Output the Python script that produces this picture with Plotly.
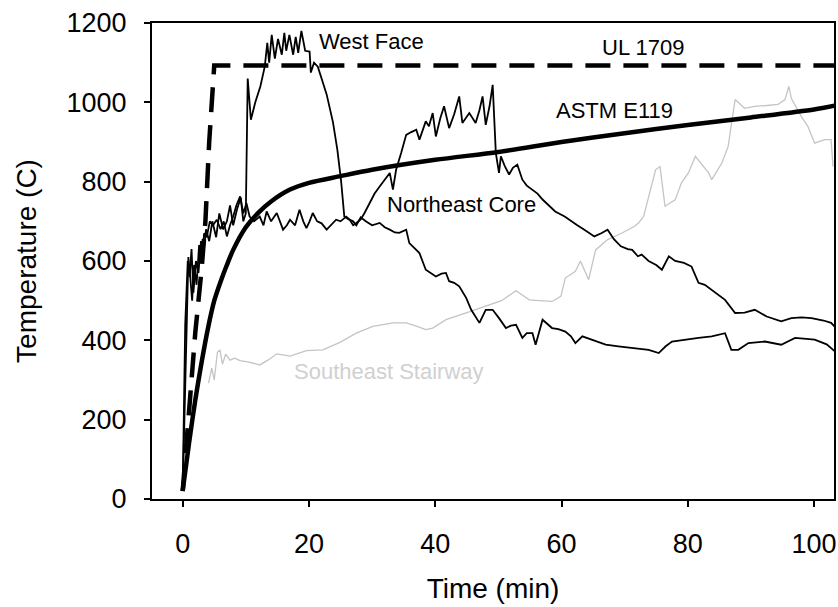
import plotly.graph_objects as go

# ---------------- data ----------------
astm_t = [0, 1, 2, 3, 4, 5, 6, 7, 8, 10, 12, 14, 17, 20, 25, 30, 40, 50, 60, 70, 80, 90, 100, 104]
astm_v = [20, 140, 250, 345, 430, 500, 548, 590, 628, 685, 722, 750, 780, 797, 814, 830, 855, 875, 900,
          922, 943, 962, 982, 994]

ul_t = [0, 1, 2, 3, 3.6, 4.2, 5, 104]
ul_v = [20, 220, 420, 580, 700, 900, 1093, 1093]

west_t = [0, 0.4, 0.8, 1.1, 1.4, 1.7, 2.1, 2.5, 2.9, 3.3, 3.7, 4.2, 4.7, 5.3, 5.8, 6.4, 7.0, 7.5, 8.0,
          8.6, 9.2, 9.6, 10.0, 10.3, 10.8, 11.5, 12.3, 13.0, 13.4, 13.7, 14.1, 14.6, 15.1, 15.7, 16.1,
          16.4, 16.9, 17.5, 17.9, 18.3, 18.8, 19.4, 20.1, 20.3, 20.8, 21.4, 22.0, 22.8, 23.8, 24.5,
          25.1, 25.6, 26.3, 27.0, 27.5, 28.2, 29.0, 30.0, 31.2, 32.0, 32.8, 33.6, 34.3, 35.0, 35.4,
          35.9, 37.0, 37.5, 38.5, 39.3, 40.1, 41.0, 41.7, 42.2, 43.0, 43.8, 44.9, 45.7, 46.3, 47.0,
          48.0, 49.1, 50.1, 51.2, 52.0, 52.8, 53.8, 54.5, 55.4, 55.9, 57.0, 58.5, 59.5, 60.6, 61.5,
          62.2, 63.3, 64.8, 66.0, 67.0, 69.0, 71.2, 73.8, 75.4, 76.5, 77.5, 79.5, 81.7, 83.8, 85.9,
          86.9, 88.0, 89.6, 91.0, 92.2, 94.8, 97.0, 100.1, 102.0, 103.3]
west_v = [20, 440, 600, 560, 630, 520, 600, 570, 650, 620, 680, 650, 700, 660, 720, 680, 700, 740, 690,
          730, 760, 700, 720, 1060, 956, 1000, 1040, 1090, 1150, 1100, 1170, 1110, 1160, 1120, 1175,
          1130, 1170, 1120, 1165, 1125, 1180, 1130, 1128, 1075, 1100, 1090, 1060, 1020, 950, 880,
          800, 712, 705, 700, 690, 710, 700, 690, 696, 685, 679, 672, 671, 675, 679,
          645, 628, 620, 578, 570, 561, 568, 570, 549, 545, 536, 507, 477, 460, 444,
          477, 477, 456, 431, 437, 439, 406, 418, 418, 389, 452, 431, 428, 422, 410,
          393, 410, 402, 395, 389, 385, 381, 376, 368, 385, 397, 402, 406, 410, 418,
          376, 376, 393, 395, 397, 389, 406, 402, 390, 372]

ne_t = [0, 0.5, 0.9, 1.2, 1.5, 1.8, 2.2, 2.6, 3.0, 3.4, 3.8, 4.3, 4.8, 5.4, 6.0, 6.5, 7.0, 7.5, 8.0,
        8.5, 9.1, 9.6, 10.1, 10.6, 11.3, 12.2, 12.8, 13.3, 14.0, 14.9, 15.4, 15.9, 16.5, 17.0, 17.8,
        18.5, 19.1, 19.6, 20.1, 20.6, 21.3, 22.0, 22.8, 23.5, 24.3, 25.0, 25.9, 26.4, 27.0, 27.5,
        28.2, 28.8, 29.6, 30.4, 31.2, 32.0, 32.8, 33.3, 33.8, 34.6, 35.4, 36.2, 37.0, 37.5, 38.5,
        39.0, 39.6, 40.1, 40.8, 41.4, 42.2, 43.0, 43.8, 44.3, 45.4, 46.4, 47.0, 47.5, 48.0, 48.6,
        49.1, 49.6, 50.1, 50.4, 51.0, 51.7, 52.3, 53.0, 53.8, 54.5, 55.4, 56.2, 57.0, 58.0, 59.0,
        60.5, 61.5, 62.5, 63.5, 64.5, 65.2, 66.3, 67.3, 68.3, 69.4, 70.5, 71.2, 72.1, 72.7, 73.8,
        75.0, 75.9, 77.0, 78.0, 79.4, 80.6, 81.7, 82.7, 84.0, 85.9, 87.5, 89.0, 90.6, 92.5, 94.8,
        96.4, 98.0, 99.6, 101.5, 102.7, 103.5]
ne_v = [20, 350, 610, 560, 500, 590, 540, 640, 600, 670, 660, 700, 690, 704, 680, 700, 662, 690, 712,
        740, 763, 720, 746, 712, 700, 712, 690, 725, 700, 721, 700, 679, 690, 704, 690,
        729, 700, 683, 700, 721, 700, 695, 679, 690, 704, 700, 712, 705, 690, 696,
        705, 721, 746, 770, 788, 805, 822, 780, 830, 872, 918, 925, 931, 906, 952,
        940, 973, 914, 960, 990, 935, 970, 1015, 948, 973, 948, 980, 1015, 943, 990,
        1044, 872, 822, 864, 840, 818, 835, 843, 805, 790, 780, 770, 755, 740, 725,
        712, 700, 690, 680, 670, 662, 670, 679, 655, 637, 630, 628, 612, 616, 600,
        590, 578, 612, 600, 595, 586, 545, 540, 525, 502, 469, 470, 477, 460, 448,
        456, 458, 456, 450, 444, 431]

se_t = [4.1, 4.6, 5.0, 5.5, 5.9, 6.3, 6.8, 7.5, 8.2, 9.1, 10.5, 12.2, 13.5, 14.9, 17.0, 19.6, 22.2,
        24.9, 27.5, 30.1, 33.3, 35.4, 37.0, 38.5, 39.6, 41.7, 44.9, 48.0, 50.5, 52.8, 54.9, 56.5,
        58.5, 59.9, 60.6, 62.2, 63.0, 64.3, 65.4, 67.3, 69.5, 71.5, 72.2, 73.0, 74.9, 75.6, 76.4,
        78.0, 79.0, 80.1, 81.2, 83.3, 83.8, 85.4, 86.4, 86.7, 87.5, 89.0, 90.6, 92.5, 94.3, 95.4,
        96.0, 96.4, 98.0, 99.0, 100.1, 101.7, 102.7, 103.0]
se_v = [292, 330, 300, 370, 376, 340, 365, 350, 355, 349, 345, 338, 350, 366, 360, 374, 376,
        395, 418, 435, 444, 444, 436, 427, 431, 452, 469, 486, 500, 525, 502, 500,
        498, 511, 557, 574, 600, 553, 628, 654, 670, 687, 696, 712, 830, 838, 738,
        754, 797, 822, 864, 822, 805, 847, 889, 922, 1007, 985, 990, 992, 995, 1007,
        1040, 1010, 964, 940, 897, 906, 906, 838]

x_ticks = [0, 20, 40, 60, 80, 100]
y_ticks = [0, 200, 400, 600, 800, 1000, 1200]

FONT = "Arial, 'Liberation Sans', sans-serif"

fig = go.Figure()
fig.add_trace(go.Scatter(x=se_t, y=se_v, mode="lines", name="Southeast Stairway",
                         line=dict(color="#c4c4c4", width=1.3)))
fig.add_trace(go.Scatter(x=west_t, y=west_v, mode="lines", name="West Face",
                         line=dict(color="black", width=1.8)))
fig.add_trace(go.Scatter(x=ne_t, y=ne_v, mode="lines", name="Northeast Core",
                         line=dict(color="black", width=1.8)))
fig.add_trace(go.Scatter(x=ul_t, y=ul_v, mode="lines", name="UL 1709",
                         line=dict(color="black", width=4.5, dash="25px,13px")))
fig.add_trace(go.Scatter(x=astm_t, y=astm_v, mode="lines", name="ASTM E119",
                         line=dict(color="black", width=4.5, shape="spline", smoothing=0.8)))

ann = dict(showarrow=False, xref="x", yref="y", font=dict(family=FONT, size=22, color="black"))
fig.add_annotation(x=21.2, y=1153, text="West Face", xanchor="left", yanchor="middle", **ann)
fig.add_annotation(x=72.85, y=1138, text="UL 1709", xanchor="center", yanchor="middle", **ann)
fig.add_annotation(x=68.4, y=979, text="ASTM E119", xanchor="center", yanchor="middle", **ann)
fig.add_annotation(x=44.2, y=742, text="Northeast Core", xanchor="center", yanchor="middle", **ann)
fig.add_annotation(x=32.6, y=321, text="Southeast Stairway", xanchor="center", yanchor="middle",
                   showarrow=False, xref="x", yref="y",
                   font=dict(family=FONT, size=22, color="#d0d0d0"))

axis_common = dict(showline=True, linecolor="black", linewidth=2, mirror=True,
                   ticks="outside", ticklen=6, tickwidth=2, tickcolor="black",
                   showgrid=False, zeroline=False,
                   tickfont=dict(family=FONT, size=27, color="black"))

fig.update_xaxes(range=[-4.86, 103.16], tickvals=x_ticks, ticktext=[str(v) for v in x_ticks],
                 ticklabelstandoff=14,
                 title=dict(text="Time (min)", font=dict(family=FONT, size=28, color="black"), standoff=20),
                 **axis_common)
fig.update_yaxes(range=[0, 1200], tickvals=y_ticks, ticktext=[str(v) for v in y_ticks],
                 ticklabelstandoff=12,
                 title=dict(text="Temperature (C)", font=dict(family=FONT, size=28, color="black"), standoff=22),
                 **axis_common)

fig.update_layout(width=838, height=607, autosize=False,
                  margin=dict(l=152, r=2, t=23, b=108),
                  plot_bgcolor="white", paper_bgcolor="white", showlegend=False,
                  font=dict(family=FONT))

fig.write_html("out.html", config={"displayModeBar": False},
               post_script="document.body.style.margin='0';")
